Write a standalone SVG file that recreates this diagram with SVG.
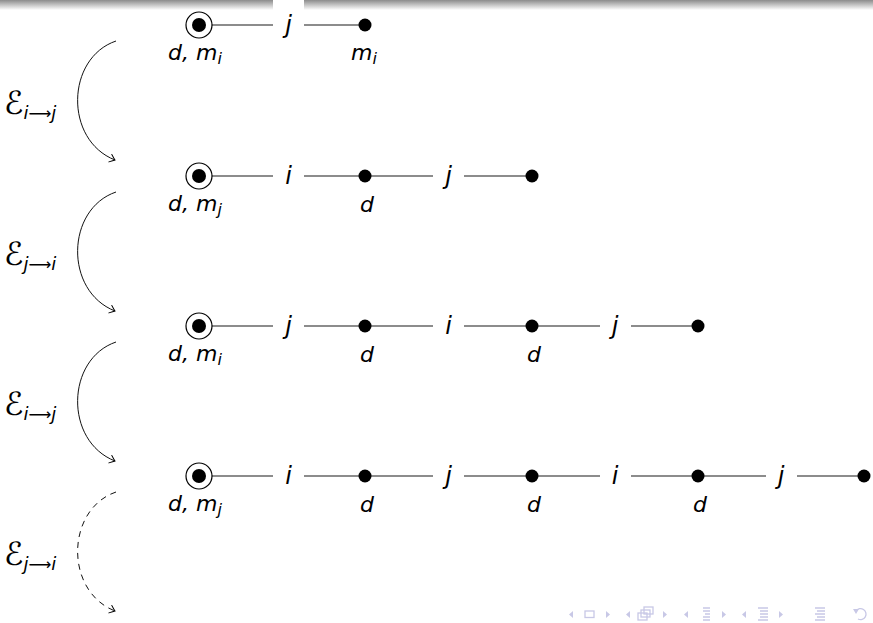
<svg xmlns="http://www.w3.org/2000/svg" width="873" height="623" viewBox="0 0 873 623">
<defs>
<linearGradient id="bar" x1="0" y1="0" x2="0" y2="1">
<stop offset="0" stop-color="#8c8c8c"/>
<stop offset="1" stop-color="#ffffff"/>
</linearGradient>
<marker id="arr" viewBox="-6 -5 8 10" refX="0" refY="0" markerWidth="8" markerHeight="10" markerUnits="userSpaceOnUse" orient="auto" overflow="visible">
<path d="M -5 -4 Q -1.5 -1 0 0 Q -1.5 1 -5 4" fill="none" stroke="#000" stroke-width="1" stroke-linecap="round"/>
</marker>
</defs>
<style>
.edge{stroke:#1a1a1a;stroke-width:1.1;fill:none}
.bend{stroke:#111;stroke-width:1;fill:none;marker-end:url(#arr)}
.dash{stroke-dasharray:6 5}
.lbl{fill:#fff;stroke:none}
.t{font-family:"DejaVu Sans",sans-serif;font-style:oblique;font-size:22px;fill:#000}
.e{font-size:24px}
.sub{font-size:16px}
.cal{font-family:"DejaVu Sans",sans-serif;font-size:32px;font-style:normal;fill:#000}
.s2{font-size:18px}
.ar{font-family:"DejaVu Sans",sans-serif;font-style:normal;font-size:16px}
.ring{fill:#fff;stroke:#000;stroke-width:1.2}
.dot{fill:#000}
.nav{fill:#c8c8e6;stroke:none}
.navs{fill:none;stroke:#c8c8e6;stroke-width:1.3}
</style>
<rect x="0" y="0" width="873" height="10" fill="url(#bar)"/>

<g id="connectors">
<line class="edge" x1="212" y1="25" x2="365" y2="25"/>
<line class="edge" x1="212" y1="176" x2="532" y2="176"/>
<line class="edge" x1="212" y1="326" x2="698" y2="326"/>
<line class="edge" x1="212" y1="476" x2="864" y2="476"/>
<path class="bend" d="M 116 41 C 66 58, 64 140, 115 160"/>
<path class="bend" d="M 116 192 C 66 209, 64 291, 115 311"/>
<path class="bend" d="M 116 342 C 66 359, 64 441, 115 461"/>
<path class="bend dash" d="M 116 492 C 66 509, 64 591, 115 611"/>
</g>

<g id="edge-labels">
<rect class="lbl" x="273" y="0" width="31" height="40"/>
<text class="t e" x="288.5" y="33" text-anchor="middle">j</text>
<rect class="lbl" x="273" y="156" width="31" height="36"/>
<text class="t e" x="288.5" y="184" text-anchor="middle">i</text>
<rect class="lbl" x="433" y="156" width="31" height="36"/>
<text class="t e" x="448.5" y="184" text-anchor="middle">j</text>
<rect class="lbl" x="273" y="306" width="31" height="36"/>
<text class="t e" x="288.5" y="334" text-anchor="middle">j</text>
<rect class="lbl" x="433" y="306" width="31" height="36"/>
<text class="t e" x="448.5" y="334" text-anchor="middle">i</text>
<rect class="lbl" x="600" y="306" width="31" height="36"/>
<text class="t e" x="615" y="334" text-anchor="middle">j</text>
<rect class="lbl" x="273" y="456" width="31" height="36"/>
<text class="t e" x="288.5" y="484" text-anchor="middle">i</text>
<rect class="lbl" x="433" y="456" width="31" height="36"/>
<text class="t e" x="448.5" y="484" text-anchor="middle">j</text>
<rect class="lbl" x="600" y="456" width="31" height="36"/>
<text class="t e" x="615" y="484" text-anchor="middle">i</text>
<rect class="lbl" x="766" y="456" width="31" height="36"/>
<text class="t e" x="781" y="484" text-anchor="middle">j</text>
</g>

<g id="r1-root"><circle class="ring" cx="199" cy="25" r="13"/><circle class="dot" cx="199" cy="25" r="7"/>
<text class="t" x="168" y="60">d, m<tspan class="sub" dy="4">i</tspan></text></g>
<g id="r1-n1"><circle class="dot" cx="365" cy="25" r="6.5"/>
<text class="t" x="351" y="60">m<tspan class="sub" dy="4">i</tspan></text></g>

<g id="r2-root"><circle class="ring" cx="199" cy="176" r="13"/><circle class="dot" cx="199" cy="176" r="7"/>
<text class="t" x="168" y="211">d, m<tspan class="sub" dy="4">j</tspan></text></g>
<g id="r2-n1"><circle class="dot" cx="365" cy="176" r="6.5"/><text class="t" x="367" y="212" text-anchor="middle">d</text></g>
<g id="r2-n2"><circle class="dot" cx="532" cy="176" r="6.5"/></g>

<g id="r3-root"><circle class="ring" cx="199" cy="326" r="13"/><circle class="dot" cx="199" cy="326" r="7"/>
<text class="t" x="168" y="361">d, m<tspan class="sub" dy="4">i</tspan></text></g>
<g id="r3-n1"><circle class="dot" cx="365" cy="326" r="6.5"/><text class="t" x="367" y="362" text-anchor="middle">d</text></g>
<g id="r3-n2"><circle class="dot" cx="532" cy="326" r="6.5"/><text class="t" x="534" y="362" text-anchor="middle">d</text></g>
<g id="r3-n3"><circle class="dot" cx="698" cy="326" r="6.5"/></g>

<g id="r4-root"><circle class="ring" cx="199" cy="476" r="13"/><circle class="dot" cx="199" cy="476" r="7"/>
<text class="t" x="168" y="511">d, m<tspan class="sub" dy="4">j</tspan></text></g>
<g id="r4-n1"><circle class="dot" cx="365" cy="476" r="6.5"/><text class="t" x="367" y="512" text-anchor="middle">d</text></g>
<g id="r4-n2"><circle class="dot" cx="532" cy="476" r="6.5"/><text class="t" x="534" y="512" text-anchor="middle">d</text></g>
<g id="r4-n3"><circle class="dot" cx="698" cy="476" r="6.5"/><text class="t" x="700" y="512" text-anchor="middle">d</text></g>
<g id="r4-n4"><circle class="dot" cx="864" cy="476" r="6.5"/></g>

<g id="bend-labels">
<text class="cal" x="4" y="114">ℰ<tspan class="t s2" dy="5">i</tspan><tspan class="ar">⟶</tspan><tspan class="t s2">j</tspan></text>
<text class="cal" x="4" y="265">ℰ<tspan class="t s2" dy="5">j</tspan><tspan class="ar">⟶</tspan><tspan class="t s2">i</tspan></text>
<text class="cal" x="4" y="415">ℰ<tspan class="t s2" dy="5">i</tspan><tspan class="ar">⟶</tspan><tspan class="t s2">j</tspan></text>
<text class="cal" x="4" y="565">ℰ<tspan class="t s2" dy="5">j</tspan><tspan class="ar">⟶</tspan><tspan class="t s2">i</tspan></text>
</g>

<g id="nav">
<polygon class="nav" points="573,611 569,614.5 573,618"/>
<rect class="navs" x="585" y="611" width="9" height="6.5"/>
<polygon class="nav" points="606,611 610,614.5 606,618"/>
<polygon class="nav" points="630,611 626,614.5 630,618"/>
<rect class="navs" x="644" y="607" width="9" height="7"/>
<rect class="navs" x="641" y="610" width="9" height="7" fill="#fff"/>
<rect class="navs" x="638" y="613" width="9" height="7" fill="#fff"/>
<polygon class="nav" points="663,611 667,614.5 663,618"/>
<polygon class="nav" points="688,611 684,614.5 688,618"/>
<path class="navs" d="M703 608h7M703 611h7M705 614h5M703 617h7M703 620h7"/>
<polygon class="nav" points="722,611 726,614.5 722,618"/>
<polygon class="nav" points="746,611 742,614.5 746,618"/>
<path class="navs" d="M758 608h10M760 611h8M760 614h8M760 617h8M758 620h10"/>
<polygon class="nav" points="779,611 783,614.5 779,618"/>
<path class="navs" d="M815 608h10M817 611h8M815 614h10M817 617h8M815 620h10"/>
<path class="navs" d="M856 611 A 5.5 5.5 0 1 1 858 619"/>
<polygon class="nav" points="853,609 859,609 856,614"/>
</g>
</svg>
